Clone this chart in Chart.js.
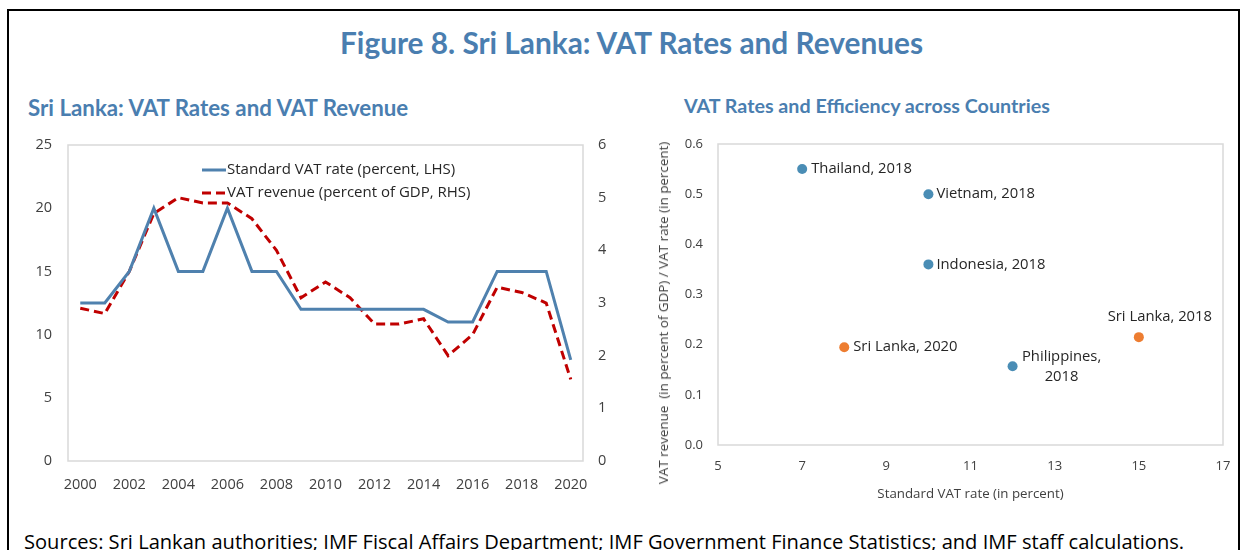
<!DOCTYPE html>
<html>
<head>
<meta charset="utf-8">
<title>Figure 8. Sri Lanka: VAT Rates and Revenues</title>
<script src="https://cdn.jsdelivr.net/npm/chart.js@4.4.0/dist/chart.umd.min.js"></script>
<style>
  html, body { margin: 0; padding: 0; background: #fff; }
  body { width: 1244px; height: 550px; overflow: hidden; position: relative; font-family: "Open Sans", sans-serif; }
  .frame { position: absolute; left: 7px; top: 9px; width: 1229px; height: 600px; border: 2px solid #000; border-bottom: none; }
  .title { position: absolute; left: 0; width: 1263px; top: 25px; text-align: center; font-family: Lato, sans-serif; font-weight: bold; font-size: 29.8px; color: #4a7eb0; white-space: nowrap; }
  .sub { position: absolute; font-family: Lato, sans-serif; font-weight: bold; color: #4a7eb0; white-space: nowrap; }
  #subLeft { left: 28px; top: 94px; font-size: 22.3px; }
  #subRight { left: 684px; top: 94px; font-size: 19.7px; }
  .box { position: absolute; }
  #leftBox { left: 20px; top: 125px; width: 610px; height: 385px; }
  #rightBox { left: 640px; top: 125px; width: 600px; height: 385px; }
  .ytitle { position: absolute; left: 663px; top: 313px; width: 0; height: 0; }
  .ytitle span { position: absolute; transform: translate(-50%, -50%) rotate(-90deg); white-space: pre; font-size: 13.4px; color: #404040; font-family: "Open Sans", sans-serif; }
  .note { position: absolute; left: 24px; top: 528px; font-size: 20.1px; color: #000; white-space: nowrap; font-family: "Open Sans", sans-serif; }
</style>
</head>
<body>
<div class="frame"></div>
<div class="title">Figure 8. Sri Lanka: VAT Rates and Revenues</div>
<div class="sub" id="subLeft">Sri Lanka: VAT Rates and VAT Revenue</div>
<div class="sub" id="subRight">VAT Rates and Efficiency across Countries</div>
<div class="box" id="leftBox"><canvas id="rateChart"></canvas></div>
<div class="box" id="rightBox"><canvas id="efficiencyChart"></canvas></div>
<div class="ytitle"><span>VAT revenue  (in percent of GDP) / VAT rate (in percent)</span></div>
<div class="note">Sources: Sri Lankan authorities; IMF Fiscal Affairs Department; IMF Government Finance Statistics; and IMF staff calculations.</div>

<script>
// --- left panel data ---
const years = ['2000', '2001', '2002', '2003', '2004', '2005', '2006', '2007', '2008', '2009', '2010',
               '2011', '2012', '2013', '2014', '2015', '2016', '2017', '2018', '2019', '2020'];
const standardRate = [12.5, 12.5, 15, 20, 15, 15, 20, 15, 15, 12, 12, 12, 12, 12, 12, 11, 11, 15, 15, 15, 8];
const vatRevenue = [2.9, 2.8, 3.6, 4.7, 5.0, 4.9, 4.9, 4.6, 4.0, 3.1, 3.4, 3.1, 2.6, 2.6, 2.7, 2.0, 2.4, 3.3, 3.2, 3.0, 1.55];

// --- right panel data ---
const countryLabels = ['Thailand, 2018', 'Vietnam, 2018', 'Indonesia, 2018', 'Sri Lanka, 2020', 'Philippines,\n2018', 'Sri Lanka, 2018'];
const vatRates = [7, 10, 10, 8, 12, 15];
const vatEfficiency = [0.55, 0.5, 0.36, 0.195, 0.157, 0.215];

const tickColor = '#404040';
const blue = '#4f81ae';
const red = '#c00000';
const dotBlue = '#4a8db5';
const dotOrange = '#ed7d31';

// light grey box round the plot area
const plotFrame = {
    id: 'plotFrame',
    beforeDatasetsDraw(chart) {
        const a = chart.chartArea;
        const ctx = chart.ctx;
        ctx.save();
        ctx.strokeStyle = '#d9d9d9';
        ctx.lineWidth = 1.5;
        ctx.strokeRect(a.left, a.top, a.right - a.left, a.bottom - a.top);
        ctx.restore();
    }
};

// legend drawn inside the plot
const insideLegend = {
    id: 'insideLegend',
    afterDraw(chart) {
        const ctx = chart.ctx;
        const x0 = chart.chartArea.left + 134;
        const y0 = chart.chartArea.top + 25;
        chart.data.datasets.forEach((ds, i) => {
            const y = y0 + i * 23;
            ctx.save();
            ctx.strokeStyle = ds.borderColor;
            ctx.lineWidth = ds.borderWidth;
            ctx.setLineDash(ds.borderDash || []);
            ctx.beginPath();
            ctx.moveTo(x0, y);
            ctx.lineTo(x0 + 24, y);
            ctx.stroke();
            ctx.setLineDash([]);
            ctx.fillStyle = '#262626';
            ctx.font = '15px "Open Sans"';
            ctx.textBaseline = 'middle';
            ctx.fillText(ds.label, x0 + 25, y);
            ctx.restore();
        });
    }
};

// text labels next to the scatter points
const labelPlacement = [
    { dx: 9, dy: 0, align: 'left' },
    { dx: 8, dy: 0, align: 'left' },
    { dx: 8, dy: 0, align: 'left' },
    { dx: 9, dy: 0, align: 'left' },
    { dx: 49, dy: -9, align: 'center' },
    { dx: 21, dy: -20, align: 'center' }
];
const pointLabels = {
    id: 'pointLabels',
    afterDatasetsDraw(chart) {
        const ctx = chart.ctx;
        const meta = chart.getDatasetMeta(0);
        ctx.save();
        ctx.fillStyle = '#262626';
        ctx.font = '14.8px "Open Sans"';
        ctx.textBaseline = 'middle';
        meta.data.forEach((pt, i) => {
            const p = labelPlacement[i];
            ctx.textAlign = p.align;
            countryLabels[i].split('\n').forEach((line, k) => {
                ctx.fillText(line, pt.x + p.dx, pt.y + p.dy + k * 20);
            });
        });
        ctx.restore();
    }
};

function initRateChart() {
    const ctx = document.getElementById('rateChart');
    new Chart(ctx, {
        type: 'line',
        data: {
            labels: years,
            datasets: [{
                label: 'Standard VAT rate (percent, LHS)',
                data: standardRate,
                yAxisID: 'y',
                borderColor: blue,
                borderWidth: 3,
                pointRadius: 0,
                tension: 0,
                fill: false
            }, {
                label: 'VAT revenue (percent of GDP, RHS)',
                data: vatRevenue,
                yAxisID: 'y1',
                borderColor: red,
                borderWidth: 3,
                borderDash: [9, 5],
                pointRadius: 0,
                tension: 0,
                fill: false
            }]
        },
        options: {
            responsive: true,
            maintainAspectRatio: false,
            animation: false,
            layout: { padding: { top: 20, bottom: 19, left: 0, right: 0 } },
            scales: {
                x: {
                    offset: true,
                    grid: { display: false, drawTicks: false },
                    border: { display: false },
                    ticks: {
                        autoSkip: false,
                        maxRotation: 0,
                        padding: 15,
                        color: tickColor,
                        font: { family: 'Open Sans', size: 14.5 },
                        callback: function(value, index) {
                            return index % 2 === 0 ? years[index] : null;
                        }
                    },
                    afterFit: s => { s.height = 30; }
                },
                y: {
                    position: 'left',
                    min: 0, max: 25,
                    grid: { display: false, drawTicks: false },
                    border: { display: false },
                    ticks: { stepSize: 5, padding: 16, color: tickColor, font: { family: 'Open Sans', size: 14.5 } },
                    afterFit: s => { s.width = 48; s.paddingTop = 0; }
                },
                y1: {
                    position: 'right',
                    min: 0, max: 6,
                    grid: { display: false, drawTicks: false },
                    border: { display: false },
                    ticks: { stepSize: 1, padding: 15, color: tickColor, font: { family: 'Open Sans', size: 14.5 } },
                    afterFit: s => { s.width = 47; s.paddingTop = 0; }
                }
            },
            plugins: {
                legend: { display: false },
                tooltip: { enabled: false }
            }
        },
        plugins: [plotFrame, insideLegend]
    });
}

function initEfficiencyChart() {
    const ctx = document.getElementById('efficiencyChart');
    new Chart(ctx, {
        type: 'scatter',
        data: {
            datasets: [{
                label: 'VAT efficiency',
                data: vatRates.map((r, i) => ({ x: r, y: vatEfficiency[i] })),
                backgroundColor: countryLabels.map(l => l.startsWith('Sri Lanka') ? dotOrange : dotBlue),
                borderWidth: 0,
                pointRadius: 5
            }]
        },
        options: {
            responsive: true,
            maintainAspectRatio: false,
            animation: false,
            layout: { padding: { top: 19, bottom: 4, left: 0, right: 17 } },
            scales: {
                x: {
                    min: 5, max: 17,
                    grid: { display: false, drawTicks: false },
                    border: { display: false },
                    ticks: { stepSize: 2, padding: 13, color: tickColor, font: { family: 'Open Sans', size: 13 } },
                    title: {
                        display: true,
                        text: 'Standard VAT rate (in percent)',
                        color: tickColor,
                        font: { family: 'Open Sans', size: 13.3 },
                        padding: { top: 0 }
                    },
                    afterFit: s => { s.height = 61; s.paddingRight = 0; }
                },
                y: {
                    min: 0, max: 0.6,
                    grid: { display: false, drawTicks: false },
                    border: { display: false },
                    ticks: {
                        stepSize: 0.1, padding: 15, color: tickColor,
                        font: { family: 'Open Sans', size: 13 },
                        callback: v => v.toFixed(1)
                    },
                    afterFit: s => { s.width = 78; s.paddingTop = 0; }
                }
            },
            plugins: {
                legend: { display: false },
                tooltip: { enabled: false }
            }
        },
        plugins: [plotFrame, pointLabels]
    });
}

document.addEventListener('DOMContentLoaded', function() {
    initRateChart();
    initEfficiencyChart();
});
</script>
</body>
</html>
